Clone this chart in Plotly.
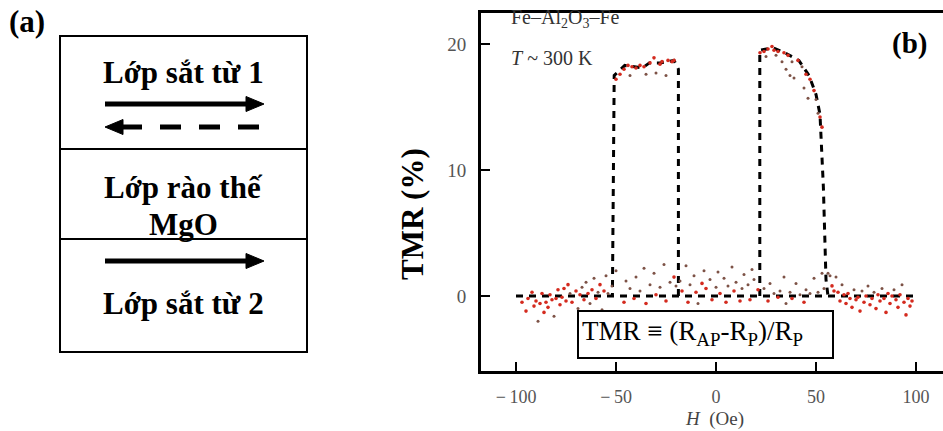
import plotly.graph_objects as go

W, H_PX = 943, 431

# ---------------- data (panel b) ----------------
base_H = [-100, 100]
base_T = [0, 0]

loopL_H = [-18.8, -18.8, -21, -28, -33.3, -36.8, -45.6, -50.9, -51.8]
loopL_T = [0, 18.0, 18.7, 18.5, 18.5, 18.1, 18.3, 17.5, 0]

loopR_H = [21.9, 21.9, 28.4, 34.5, 41.4, 46.5, 50, 52, 53.7, 55, 56]
loopR_T = [0, 19.5, 19.7, 19.3, 18.7, 17.5, 16.0, 14.4, 8.6, 1.3, 0]

red_H = [-97, -95, -94, -92, -91, -90, -88, -87, -86, -85, -84, -83, -82, -80, -79, -78, -77,
         -76, -75, -74, -72, -70, -68, -66, -64, -62, -60, -58, -56,
         -46, -41, -35, -30, -25, -21, -17, -14, -10, -7, -5, -2, 2, 5, 9, 12, 17, 21,
         26, 31, 38, 44, 58, 59, 61, 62, 64, 65, 66, 67, 68, 70, 71, 72, 74, 75, 77,
         78, 80, 81, 82, 84, 85, 86, 87, 88, 90, 91, 92, 94, 95, 96, 97, 98,
         -50, -48, -46, -44, -42, -40, -38, -36, -33, -31, -28, -27, -24, -22, -21,
         22, 24, 26, 28, 29, 31, 34, 36, 41, 45, 47, 49, 52, 53]
red_T = [-0.5, -1.2, -0.2, 0.3, -0.8, -0.4, -0.6, 0.2, -1.3, -0.5, -0.9, 0.1, -0.3, -0.2, 0.5, -0.7, -0.1,
         0.6, -0.4, 0.9, -0.5, 0.4, 0.1, -0.3, 0.2, 0.5, -0.2, 0.9, 0.4,
         -0.5, -0.2, -0.6, 0.1, -0.4, 1.5, 0.4, -0.5, 0.3, 1.0, 0.6, -0.3, 0.2, -0.5, 0.4, -0.4, -0.3, 0.5,
         -0.4, -0.1, -0.2, -0.5, 0.8, 0.4, 0.3, -0.4, 0.1, -0.6, 0.2, -0.2, -0.9, -0.3, -0.1, -1.2, -0.5, 0.0, -0.7,
         -0.2, -1.0, 0.1, -0.4, -0.2, -1.3, 0.2, -0.6, 0.0, -0.3, -0.9, 0.1, -0.5, -1.5, -0.2, -0.8, -0.4,
         17.2, 17.6, 18.0, 18.3, 18.2, 18.1, 18.3, 18.2, 18.5, 18.9, 18.4, 18.6, 18.7, 18.6, 18.7,
         19.3, 19.4, 19.6, 19.8, 19.5, 19.4, 19.3, 19.1, 18.7, 17.6, 17.2, 16.3, 14.2, 13.4]

dark_H = [-89, -81, -73, -69, -67, -65, -63, -61, -59, -57, -55, -54, -52, -50, -45, -43, -40, -38,
          -36, -33, -31, -28, -26, -23, -20, -18, -15, -13, -11, -9, -6, -3, 0, 1, 4, 6, 8, 10,
          13, 14, 16, 18, 19, 24, 27, 29, 32, 34, 35, 37, 40, 42, 45, 47, 49, 51, 53, 54, 56, 57,
          60, 63, 69, 73, 76, 79, 83, 89, 93,
          -43, -35, -30, -25, 25, 30, 33, 35, 37, 38, 39, 43, 44, 46, 50, 51]
dark_T = [-2.0, -1.6, 0.2, -1.0, 0.7, 1.1, -0.6, 1.4, 0.3, -1.1, 1.6, 0.2, 0.8, 2.0, 1.2, 0.6, 1.5, 0.4,
          2.2, 0.9, 1.8, 0.7, 2.5, 1.1, 0.8, 1.2, 2.4, 0.9, 1.6, -0.6, 2.0, 1.3, 0.7, 1.9, 1.4, 0.8, 2.3, 1.1,
          0.6, 1.7, 0.9, 2.1, 1.3, 0.6, 1.0, 0.2, 0.4, 1.5, -0.6, 0.3, 1.0, 0.1, 0.5, 0.2, 1.4, 0.3, 1.8, 0.6, 1.8, 1.6,
          1.5, 0.9, 0.5, 0.4, 0.8, 0.3, 0.6, 0.5, 0.9,
          17.5, 17.6, 17.7, 17.5, 19.0, 19.1, 18.6, 18.0, 17.5, 18.6, 17.3, 18.2, 16.5, 15.7, 15.6, 14.5]

xtick_vals = [-100, -50, 0, 50, 100]
xtick_text = ["−\u2009100", "−\u200950", "0", "50", "100"]
ytick_vals = [0, 10, 20]
ytick_text = ["0", "10", "20"]

# ---------------- helpers ----------------
def px(x):
    return x / W

def py(y):
    return 1 - y / H_PX

SERIF = "Liberation Serif"

fig = go.Figure()

dash_style = dict(color="black", width=3, dash="7px,6px")
fig.add_trace(go.Scatter(x=base_H, y=base_T, mode="lines", line=dash_style, hoverinfo="skip"))
fig.add_trace(go.Scatter(x=loopL_H, y=loopL_T, mode="lines", line=dash_style, hoverinfo="skip"))
fig.add_trace(go.Scatter(x=loopR_H, y=loopR_T, mode="lines", line=dash_style, hoverinfo="skip"))
fig.add_trace(go.Scatter(x=red_H, y=red_T, mode="markers",
                         marker=dict(color="#d42a1e", size=3.6, line=dict(width=0)), hoverinfo="skip"))
fig.add_trace(go.Scatter(x=dark_H, y=dark_T, mode="markers",
                         marker=dict(color="#7d5246", size=3.0, line=dict(width=0)), hoverinfo="skip"))

x_left, x_right = 481, 943
y_top, y_bot = 13, 371
xs = 2.0          # px per Oe
x0_px = 716       # pixel of H=0
ys = 12.6         # px per %
y0_px = 296       # pixel of TMR=0

fig.update_layout(
    width=W, height=H_PX,
    margin=dict(l=0, r=0, t=0, b=0),
    paper_bgcolor="white", plot_bgcolor="white",
    showlegend=False,
    xaxis=dict(
        domain=[px(x_left), 1],
        range=[(x_left - x0_px) / xs, (x_right - x0_px) / xs],
        showline=True, linecolor="black", linewidth=3, mirror=True,
        ticks="inside", ticklen=9, tickwidth=2, tickcolor="black",
        tickvals=xtick_vals, ticktext=xtick_text, showgrid=False, zeroline=False,
        tickfont=dict(family=SERIF, size=18, color="#555"),
        ticklabelstandoff=7,
    ),
    yaxis=dict(
        domain=[py(y_bot), py(y_top)],
        range=[(y0_px - y_bot) / ys, (y0_px - y_top) / ys],
        showline=True, linecolor="black", linewidth=3,
        ticks="inside", ticklen=9, tickwidth=2, tickcolor="black",
        tickvals=ytick_vals, ticktext=ytick_text, showgrid=False, zeroline=False,
        tickfont=dict(family=SERIF, size=19, color="#555"),
        ticklabelstandoff=8,
    ),
)

shapes = []
annos = []

# ---------------- panel (a) ----------------
bx0, bx1 = 60, 307
by = [36, 149, 239, 352]
shapes.append(dict(type="rect", xref="paper", yref="paper",
                   x0=px(bx0), x1=px(bx1), y0=py(by[3]), y1=py(by[0]),
                   line=dict(color="black", width=2)))
for yy in by[1:3]:
    shapes.append(dict(type="line", xref="paper", yref="paper",
                       x0=px(bx0), x1=px(bx1), y0=py(yy), y1=py(yy),
                       line=dict(color="black", width=2)))

def tri(tip_x, base_x, yc, half):
    return ("M {},{} L {},{} L {},{} Z".format(px(tip_x), py(yc), px(base_x), py(yc - half),
                                               px(base_x), py(yc + half)))

# solid arrows
for yc in (104, 261):
    shapes.append(dict(type="line", xref="paper", yref="paper",
                       x0=px(105), x1=px(250), y0=py(yc), y1=py(yc),
                       line=dict(color="black", width=5)))
    shapes.append(dict(type="path", xref="paper", yref="paper", path=tri(264, 246, yc, 7.5),
                       fillcolor="black", line=dict(color="black", width=1)))
# dashed arrow (left)
shapes.append(dict(type="line", xref="paper", yref="paper",
                   x0=px(259), x1=px(120), y0=py(127), y1=py(127),
                   line=dict(color="black", width=5, dash="21px,18px")))
shapes.append(dict(type="path", xref="paper", yref="paper", path=tri(105, 123, 127, 7.5),
                   fillcolor="black", line=dict(color="black", width=1)))

boldfont = dict(family=SERIF, size=31, color="black")
for txt, yc in [("<b>Lớp sắt từ 1</b>", 72), ("<b>Lớp rào thế</b>", 188),
                ("<b>MgO</b>", 224), ("<b>Lớp sắt từ 2</b>", 303)]:
    annos.append(dict(text=txt, xref="paper", yref="paper", x=px(183.5), y=py(yc),
                      xanchor="center", yanchor="middle", showarrow=False, font=boldfont))
annos.append(dict(text="<b>(a)</b>", xref="paper", yref="paper", x=px(7), y=py(21),
                  xanchor="left", yanchor="middle", showarrow=False,
                  font=dict(family=SERIF, size=31, color="black")))

# ---------------- panel (b) texts ----------------
annos.append(dict(text="<b>(b)</b>", xref="paper", yref="paper", x=px(909), y=py(44),
                  xanchor="center", yanchor="middle", showarrow=False,
                  font=dict(family=SERIF, size=29, color="black")))
annos.append(dict(text="Fe–Al<sub>2</sub>O<sub>3</sub>–Fe", xref="paper", yref="paper",
                  x=px(509), y=py(18), xanchor="left", yanchor="middle", showarrow=False,
                  font=dict(family=SERIF, size=20, color="#333")))
annos.append(dict(text="<i>T</i> ~ 300 K", xref="paper", yref="paper",
                  x=px(509), y=py(58), xanchor="left", yanchor="middle", showarrow=False,
                  font=dict(family=SERIF, size=20, color="#333")))
annos.append(dict(text="<i>H</i>  (Oe)", xref="paper", yref="paper",
                  x=px(714), y=py(419), xanchor="center", yanchor="middle", showarrow=False,
                  font=dict(family=SERIF, size=19, color="#444")))
annos.append(dict(text="<b>TMR (%)</b>", xref="paper", yref="paper", textangle=-90,
                  x=px(413), y=py(214), xanchor="center", yanchor="middle", showarrow=False,
                  font=dict(family=SERIF, size=31, color="black")))

# TMR definition box
shapes.append(dict(type="rect", xref="paper", yref="paper",
                   x0=px(578), x1=px(833), y0=py(358), y1=py(311),
                   fillcolor="white", line=dict(color="black", width=2), layer="above"))
annos.append(dict(text="TMR ≡ (R<sub>AP</sub>-R<sub>P</sub>)/R<sub>P</sub>", xref="paper", yref="paper",
                  x=px(580), y=py(333), xanchor="left", yanchor="middle", showarrow=False,
                  font=dict(family=SERIF, size=27, color="black")))

fig.update_layout(shapes=shapes, annotations=annos)
fig.write_html("out.html")
